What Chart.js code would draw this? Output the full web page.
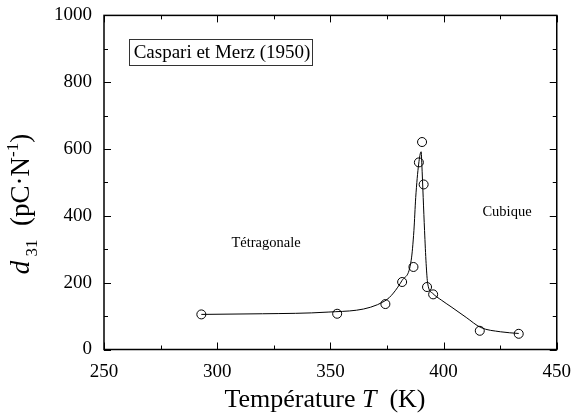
<!DOCTYPE html>
<html lang="fr">
  <head>
    <meta charset="UTF-8" />
    <title>d31</title>
    <style>
      html, body { margin: 0; padding: 0; background: #fff; }
      #wrap { width: 574px; height: 418px; }
    </style>
  </head>
  <body>
    <div id="wrap"><canvas id="myChart" width="574" height="418"></canvas></div>

    <script src="https://cdn.jsdelivr.net/npm/chart.js"></script>
    <script>
      // measured points (Caspari et Merz 1950)
      const tempPoints = [293, 353, 374.3, 381.7, 386.7, 389.1, 390.5, 391.2, 392.7, 395.4, 416, 433.2];
      const d31Points = [105, 107, 136, 202, 247, 560, 621, 494, 187, 165, 56, 47];
      // guide curve drawn through the data
      const fitTemp = [293, 320, 349, 374, 381.7, 385.7, 386.9, 387.7, 389, 390.1, 390.4, 391, 391.6, 392.3, 393, 395.2, 399, 403.3, 410, 416.4, 425.2, 433.2];
      const fitD31 = [105, 107, 112, 145, 207, 267, 356, 455, 555, 592, 555, 455, 356, 257, 197, 168, 148, 128, 96, 66, 53, 48];
      const xTicks = [250, 300, 350, 400, 450];
      const yTicks = [0, 200, 400, 600, 800, 1000];

      const serif = "'Liberation Serif', 'DejaVu Serif', serif";

      const frame = {
        id: "frame",
        afterDraw(chart) {
          const c = chart.ctx;
          const a = chart.chartArea;
          const xs = chart.scales.x;
          const ys = chart.scales.y;
          c.save();
          c.strokeStyle = "#000";
          c.lineWidth = 1.5;
          c.strokeRect(a.left, a.top, a.right - a.left, a.bottom - a.top);
          c.lineWidth = 1;
          c.beginPath();
          for (let v = 250; v <= 450; v += 25) {
            const px = Math.round(xs.getPixelForValue(v)) + 0.5;
            const len = v % 50 === 0 ? 7 : 4;
            c.moveTo(px, a.bottom); c.lineTo(px, a.bottom - len);
            c.moveTo(px, a.top); c.lineTo(px, a.top + len);
          }
          for (let v = 0; v <= 1000; v += 100) {
            const py = Math.round(ys.getPixelForValue(v)) + 0.5;
            const len = v % 200 === 0 ? 7 : 4;
            c.moveTo(a.left, py); c.lineTo(a.left + len, py);
            c.moveTo(a.right, py); c.lineTo(a.right - len, py);
          }
          c.stroke();

          // x title
          c.fillStyle = "#000";
          c.textBaseline = "alphabetic";
          const big = "26px " + serif;
          const bigI = "italic 26px " + serif;
          const parts = [["Température ", big], ["T", bigI], ["  (K)", big]];
          let w = 0;
          parts.forEach((p) => { c.font = p[1]; w += c.measureText(p[0]).width; });
          let x = 325 - w / 2;
          c.textAlign = "left";
          parts.forEach((p) => { c.font = p[1]; c.fillText(p[0], x, 407); x += c.measureText(p[0]).width; });

          // y title
          c.save();
          c.translate(29, 204);
          c.rotate(-Math.PI / 2);
          const yBig = "27px " + serif;
          const yBigI = "italic 27px " + serif;
          const small = "17px " + serif;
          const yparts = [["d", yBigI, 0], [" ", small, 0], ["31", small, 8], ["  (pC·N", yBig, 0], ["-1", small, -11], [")", yBig, 0]];
          w = 0;
          yparts.forEach((p) => { c.font = p[1]; w += c.measureText(p[0]).width; });
          x = -w / 2;
          yparts.forEach((p) => { c.font = p[1]; c.fillText(p[0], x, p[2]); x += c.measureText(p[0]).width; });
          c.restore();

          // annotations
          c.textBaseline = "middle";
          c.font = "19px " + serif;
          c.textAlign = "center";
          c.fillText("Caspari et Merz (1950)", 222, 53);
          c.strokeStyle = "#333";
          c.lineWidth = 1;
          c.strokeRect(129.5, 39.5, 183, 26);
          c.font = "14.5px " + serif;
          c.fillText("Tétragonale", 266, 243);
          c.fillText("Cubique", 507, 212);
          c.restore();
        },
      };

      new Chart(document.getElementById("myChart"), {
        type: "scatter",
        data: {
          datasets: [
            {
              label: "fit",
              data: fitTemp.map((t, i) => ({ x: t, y: fitD31[i] })),
              showLine: true,
              cubicInterpolationMode: "monotone",
              borderColor: "#000",
              borderWidth: 1,
              pointRadius: 0,
            },
            {
              label: "mesures",
              data: tempPoints.map((t, i) => ({ x: t, y: d31Points[i] })),
              pointRadius: 4.5,
              pointBackgroundColor: "#fff",
              pointBorderColor: "#000",
              pointBorderWidth: 1,
            },
          ],
        },
        options: {
          responsive: false,
          animation: false,
          layout: { padding: { top: 14, right: 14, left: 0, bottom: 0 } },
          plugins: { legend: { display: false }, tooltip: { enabled: false } },
          scales: {
            x: {
              type: "linear",
              min: 250,
              max: 450,
              afterBuildTicks: (s) => { s.ticks = xTicks.map((v) => ({ value: v })); },
              afterFit: (s) => { s.height = 68.5; },
              grid: { display: false },
              border: { display: false },
              ticks: { color: "#000", font: { family: serif, size: 19 }, padding: 3, maxRotation: 0, callback: (v) => String(v) },
            },
            y: {
              min: 0,
              max: 1000,
              afterBuildTicks: (s) => { s.ticks = yTicks.map((v) => ({ value: v })); },
              afterFit: (s) => { s.width = 104; },
              grid: { display: false },
              border: { display: false },
              ticks: { color: "#000", font: { family: serif, size: 19 }, padding: 4, callback: (v) => String(v) },
            },
          },
        },
        plugins: [frame],
      });
    </script>
  </body>
</html>
